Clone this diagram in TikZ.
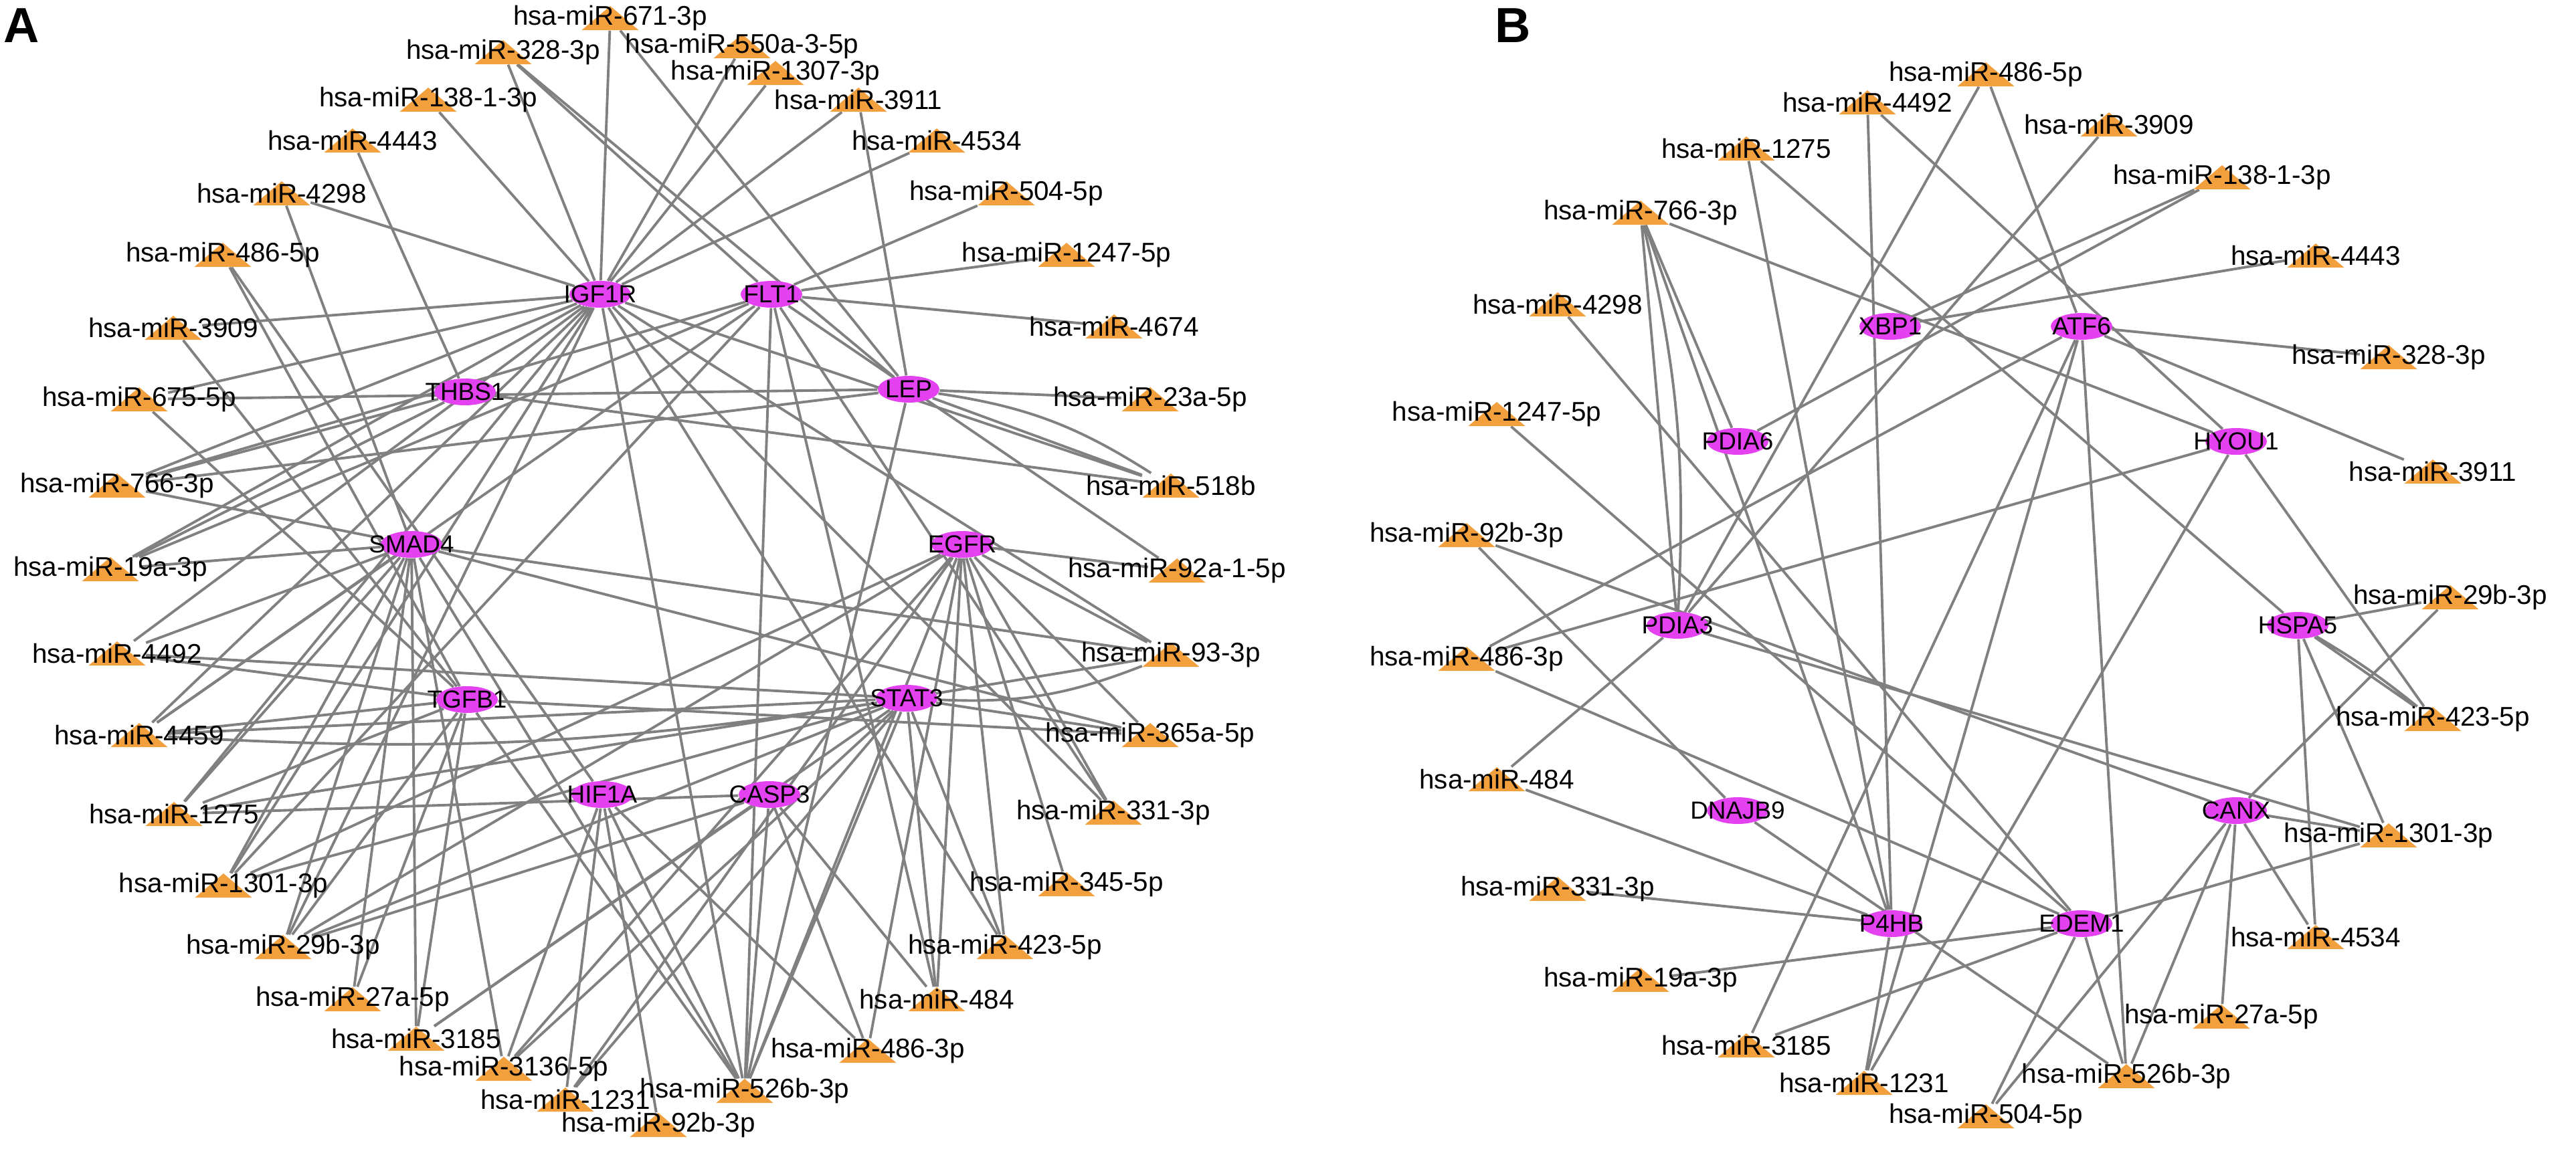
\documentclass[tikz,border=0pt]{standalone}
\usepackage{fontspec}
\setmainfont{Liberation Sans}
\usetikzlibrary{backgrounds,shapes.geometric}
\definecolor{mirorange}{RGB}{242,160,62}
\definecolor{genepink}{RGB}{228,66,240}
\definecolor{linkgray}{RGB}{128,128,128}
\tikzset{
  mirna/.style={minimum width=0.85cm, minimum height=0.36cm, inner sep=0pt,
    path picture={\fill[mirorange] (path picture bounding box.south west)
      -- (path picture bounding box.south east) -- (path picture bounding box.north) -- cycle;},
    label={[font=\fontsize{11.5}{12}\selectfont, inner sep=0pt]center:#1}},
  gene/.style={ellipse, fill=genepink, minimum width=0.92cm, minimum height=0.4cm, inner sep=0pt,
    label={[font=\fontsize{10.5}{11}\selectfont, inner sep=0pt]center:#1}},
  link/.style={draw=linkgray, line width=1.1pt},
  panel/.style={font=\bfseries\fontsize{21}{21}\selectfont, inner sep=0pt}
}
\begin{document}
\begin{tikzpicture}
\useasboundingbox (0,0) rectangle (38.5,-17.17);
\node[panel] (A) at (0.32,-0.38) {A};
\node[panel] (B) at (22.61,-0.38) {B};
% panel A: genes
\node[gene=IGF1R] (IGF1R) at (8.97,-4.40) {};
\node[gene=FLT1] (FLT1) at (11.53,-4.40) {};
\node[gene=THBS1] (THBS1) at (6.95,-5.86) {};
\node[gene=LEP] (LEP) at (13.58,-5.82) {};
\node[gene=SMAD4] (SMAD4) at (6.15,-8.14) {};
\node[gene=EGFR] (EGFR) at (14.38,-8.14) {};
\node[gene=TGFB1] (TGFB1) at (6.98,-10.46) {};
\node[gene=STAT3] (STAT3) at (13.55,-10.44) {};
\node[gene=HIF1A] (HIF1A) at (9.00,-11.88) {};
\node[gene=CASP3] (CASP3) at (11.50,-11.88) {};
% panel A: miRNAs
\node[mirna=hsa-miR-671-3p] (a671) at (9.12,-0.27) {};
\node[mirna=hsa-miR-328-3p] (a328) at (7.52,-0.78) {};
\node[mirna=hsa-miR-550a-3-5p] (a550) at (11.09,-0.69) {};
\node[mirna=hsa-miR-1307-3p] (a1307) at (11.59,-1.09) {};
\node[mirna=hsa-miR-138-1-3p] (a138) at (6.40,-1.49) {};
\node[mirna=hsa-miR-3911] (a3911) at (12.83,-1.49) {};
\node[mirna=hsa-miR-4443] (a4443) at (5.27,-2.10) {};
\node[mirna=hsa-miR-4534] (a4534) at (14.00,-2.10) {};
\node[mirna=hsa-miR-4298] (a4298) at (4.21,-2.89) {};
\node[mirna=hsa-miR-504-5p] (a504) at (15.04,-2.89) {};
\node[mirna=hsa-miR-486-5p] (a486f) at (3.33,-3.81) {};
\node[mirna=hsa-miR-1247-5p] (a1247) at (15.94,-3.81) {};
\node[mirna=hsa-miR-3909] (a3909) at (2.59,-4.90) {};
\node[mirna=hsa-miR-4674] (a4674) at (16.65,-4.88) {};
\node[mirna=hsa-miR-675-5p] (a675) at (2.08,-5.97) {};
\node[mirna=hsa-miR-23a-5p] (a23a) at (17.19,-5.97) {};
\node[mirna=hsa-miR-766-3p] (a766) at (1.75,-7.26) {};
\node[mirna=hsa-miR-518b] (a518b) at (17.50,-7.26) {};
\node[mirna=hsa-miR-19a-3p] (a19a) at (1.65,-8.51) {};
\node[mirna=hsa-miR-92a-1-5p] (a92a) at (17.59,-8.53) {};
\node[mirna=hsa-miR-4492] (a4492) at (1.75,-9.77) {};
\node[mirna=hsa-miR-93-3p] (a93) at (17.50,-9.79) {};
\node[mirna=hsa-miR-4459] (a4459) at (2.08,-10.99) {};
\node[mirna=hsa-miR-365a-5p] (a365a) at (17.19,-10.99) {};
\node[mirna=hsa-miR-1275] (a1275) at (2.60,-12.17) {};
\node[mirna=hsa-miR-331-3p] (a331) at (16.64,-12.15) {};
\node[mirna=hsa-miR-1301-3p] (a1301) at (3.34,-13.24) {};
\node[mirna=hsa-miR-345-5p] (a345) at (15.94,-13.22) {};
\node[mirna=hsa-miR-29b-3p] (a29b) at (4.23,-14.16) {};
\node[mirna=hsa-miR-423-5p] (a423) at (15.02,-14.16) {};
\node[mirna=hsa-miR-27a-5p] (a27a) at (5.27,-14.94) {};
\node[mirna=hsa-miR-484] (a484) at (14.00,-14.94) {};
\node[mirna=hsa-miR-3185] (a3185) at (6.22,-15.53) {};
\node[mirna=hsa-miR-486-3p] (a486t) at (12.97,-15.71) {};
\node[mirna=hsa-miR-3136-5p] (a3136) at (7.53,-15.98) {};
\node[mirna=hsa-miR-526b-3p] (a526b) at (11.13,-16.31) {};
\node[mirna=hsa-miR-1231] (a1231) at (8.45,-16.44) {};
\node[mirna=hsa-miR-92b-3p] (a92b) at (9.84,-16.82) {};
% panel B: genes
\node[gene=XBP1] (XBP1) at (28.25,-4.88) {};
\node[gene=ATF6] (ATF6) at (31.11,-4.88) {};
\node[gene=PDIA6] (PDIA6) at (25.97,-6.60) {};
\node[gene=HYOU1] (HYOU1) at (33.42,-6.60) {};
\node[gene=PDIA3] (PDIA3) at (25.07,-9.35) {};
\node[gene=HSPA5] (HSPA5) at (34.34,-9.35) {};
\node[gene=DNAJB9] (DNAJB9) at (25.97,-12.12) {};
\node[gene=CANX] (CANX) at (33.42,-12.12) {};
\node[gene=P4HB] (P4HB) at (28.27,-13.81) {};
\node[gene=EDEM1] (EDEM1) at (31.11,-13.81) {};
% panel B: miRNAs
\node[mirna=hsa-miR-486-5p] (b486f) at (29.68,-1.11) {};
\node[mirna=hsa-miR-4492] (b4492) at (27.91,-1.53) {};
\node[mirna=hsa-miR-3909] (b3909) at (31.52,-1.86) {};
\node[mirna=hsa-miR-1275] (b1275) at (26.10,-2.22) {};
\node[mirna=hsa-miR-138-1-3p] (b138) at (33.21,-2.65) {};
\node[mirna=hsa-miR-766-3p] (b766) at (24.52,-3.18) {};
\node[mirna=hsa-miR-4443] (b4443) at (34.61,-3.82) {};
\node[mirna=hsa-miR-4298] (b4298) at (23.28,-4.55) {};
\node[mirna=hsa-miR-328-3p] (b328) at (35.70,-5.34) {};
\node[mirna=hsa-miR-1247-5p] (b1247) at (22.37,-6.19) {};
\node[mirna=hsa-miR-3911] (b3911) at (36.36,-7.05) {};
\node[mirna=hsa-miR-92b-3p] (b92b) at (21.92,-8.00) {};
\node[mirna=hsa-miR-29b-3p] (b29b) at (36.62,-8.93) {};
\node[mirna=hsa-miR-486-3p] (b486t) at (21.92,-9.85) {};
\node[mirna=hsa-miR-423-5p] (b423) at (36.36,-10.75) {};
\node[mirna=hsa-miR-484] (b484) at (22.37,-11.65) {};
\node[mirna=hsa-miR-1301-3p] (b1301) at (35.70,-12.49) {};
\node[mirna=hsa-miR-331-3p] (b331) at (23.28,-13.29) {};
\node[mirna=hsa-miR-4534] (b4534) at (34.61,-14.01) {};
\node[mirna=hsa-miR-19a-3p] (b19a) at (24.52,-14.65) {};
\node[mirna=hsa-miR-27a-5p] (b27a) at (33.20,-15.20) {};
\node[mirna=hsa-miR-3185] (b3185) at (26.10,-15.63) {};
\node[mirna=hsa-miR-526b-3p] (b526b) at (31.78,-16.09) {};
\node[mirna=hsa-miR-1231] (b1231) at (27.86,-16.19) {};
\node[mirna=hsa-miR-504-5p] (b504) at (29.68,-16.69) {};
% links, kept behind the nodes
\begin{scope}[on background layer]
\path[link] (IGF1R) -- (a671) (IGF1R) -- (a328) (IGF1R) -- (a550) (IGF1R) -- (a1307) (IGF1R) -- (a138)
  (IGF1R) -- (a3911) (IGF1R) -- (a4534) (IGF1R) -- (a4298) (IGF1R) -- (a3909) (IGF1R) -- (a675) (IGF1R) -- (a766)
  (IGF1R) -- (a19a) (IGF1R) -- (a4492) (IGF1R) -- (a4459) (IGF1R) -- (a1275) (IGF1R) -- (a1301)
  (IGF1R) -- (a29b) (IGF1R) -- (a518b) (IGF1R) -- (a93) (IGF1R) -- (a331) (IGF1R) -- (a423) (IGF1R) -- (a526b);
\path[link] (FLT1) -- (a328) (FLT1) -- (a504) (FLT1) -- (a1247) (FLT1) -- (a4674) (FLT1) -- (a766)
  (FLT1) -- (a19a) (FLT1) -- (a92a) (FLT1) -- (a331) (FLT1) -- (a526b) (FLT1) -- (a484) (FLT1) -- (a1301) (FLT1) -- (a4459);
\path[link] (THBS1) -- (a4443) (THBS1) -- (a766) (THBS1) -- (a19a) (THBS1) -- (a518b);
\path[link] (LEP) -- (a3911) (LEP) -- (a328) (LEP) -- (a671) (LEP) -- (a675) (LEP) -- (a23a)
  (LEP) to[bend left=12] (a518b) (LEP) -- (a518b) (LEP) -- (a766) (LEP) -- (a526b);
\path[link] (SMAD4) -- (a4298) (SMAD4) -- (a766) (SMAD4) -- (a19a) (SMAD4) -- (a4492) (SMAD4) -- (a365a) (SMAD4) -- (a93)
  (SMAD4) -- (a4459) (SMAD4) -- (a1275) (SMAD4) -- (a1301) (SMAD4) -- (a29b) (SMAD4) -- (a27a) (SMAD4) -- (a3185)
  (SMAD4) -- (a3136) (SMAD4) -- (a526b);
\path[link] (EGFR) -- (a92a) (EGFR) -- (a93) (EGFR) -- (a365a) (EGFR) -- (a331) (EGFR) -- (a345) (EGFR) -- (a423)
  (EGFR) -- (a484) (EGFR) -- (a486t) (EGFR) -- (a526b) (EGFR) -- (a29b) (EGFR) -- (a1301) (EGFR) -- (a1231) (EGFR) -- (a3136);
\path[link] (TGFB1) -- (a3909) (TGFB1) -- (a675) (TGFB1) -- (a486f) (TGFB1) -- (a4492) (TGFB1) -- (a4459) (TGFB1) -- (a1275)
  (TGFB1) -- (a29b) (TGFB1) -- (a27a) (TGFB1) -- (a3185) (TGFB1) -- (a365a) (TGFB1) -- (a526b);
\path[link] (STAT3) -- (a93) (STAT3) to[bend right=12] (a93) (STAT3) -- (a365a) (STAT3) -- (a4492) (STAT3) -- (a4459)
  (STAT3) to[bend left=6] (a4459) (STAT3) -- (a1275) (STAT3) -- (a1301)
  (STAT3) -- (a29b) (STAT3) -- (a3185) (STAT3) -- (a423) (STAT3) -- (a526b) (STAT3) -- (a3136) (STAT3) -- (a1231) (STAT3) -- (a484);
\path[link] (HIF1A) -- (a486f) (HIF1A) -- (a526b) (HIF1A) -- (a1231) (HIF1A) -- (a92b) (HIF1A) -- (a486t) (HIF1A) -- (a3136);
\path[link] (CASP3) -- (a486t) (CASP3) -- (a526b) (CASP3) -- (a484) (CASP3) -- (a3185) (CASP3) -- (a1275) (CASP3) -- (a29b);
% panel B links
\path[link] (XBP1) -- (b4443) (XBP1) -- (b138);
\path[link] (ATF6) -- (b486f) (ATF6) -- (b328) (ATF6) -- (b3911) (ATF6) -- (b486t) (ATF6) -- (b3185)
  (ATF6) -- (b526b) (ATF6) -- (b1231);
\path[link] (PDIA6) -- (b138) (PDIA6) -- (b766);
\path[link] (HYOU1) -- (b766) (HYOU1) -- (b4492) (HYOU1) -- (b486t) (HYOU1) -- (b423) (HYOU1) -- (b1231);
\path[link] (PDIA3) -- (b766) (PDIA3) to[bend right=8] (b766) (PDIA3) -- (b486f) (PDIA3) -- (b3909) (PDIA3) -- (b484)
  (PDIA3) -- (b1301);
\path[link] (HSPA5) -- (b29b) (HSPA5) -- (b423) (HSPA5) to[bend left=4] (b423) (HSPA5) -- (b4534) (HSPA5) -- (b1301)
  (HSPA5) -- (b1275);
\path[link] (CANX) -- (b29b) (CANX) -- (b1301) (CANX) -- (b4534) (CANX) -- (b27a) (CANX) -- (b526b) (CANX) -- (b504)
  (CANX) -- (b92b);
\path[link] (DNAJB9) -- (b92b) (DNAJB9) -- (b526b);
\path[link] (P4HB) -- (b4492) (P4HB) -- (b1275) (P4HB) -- (b331) (P4HB) -- (b1231) (P4HB) -- (b484) (P4HB) -- (b766);
\path[link] (EDEM1) -- (b4298) (EDEM1) -- (b1247) (EDEM1) -- (b486t) (EDEM1) -- (b19a) (EDEM1) -- (b1301)
  (EDEM1) -- (b504) (EDEM1) -- (b526b) (EDEM1) -- (b3185);
\end{scope}
\end{tikzpicture}
\end{document}
